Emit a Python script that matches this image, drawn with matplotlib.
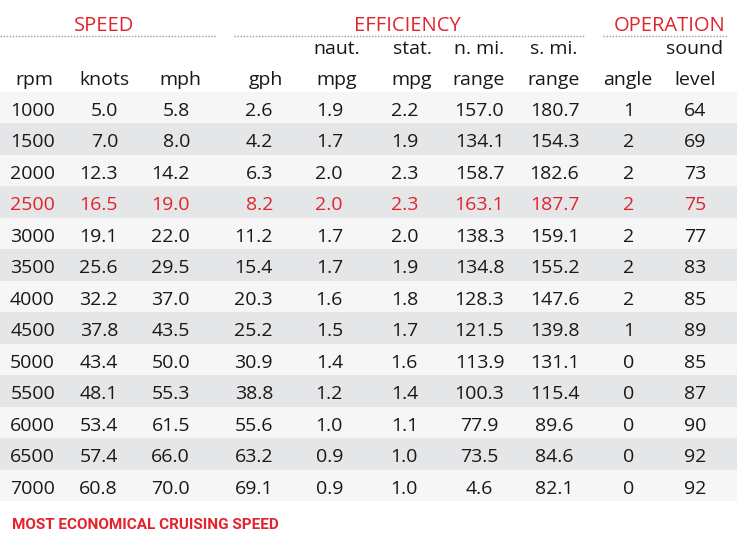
import matplotlib
matplotlib.use("Agg")
import matplotlib.pyplot as plt
from matplotlib.patches import Rectangle

# ---------------- data ----------------
rpm = [1000, 1500, 2000, 2500, 3000, 3500, 4000, 4500, 5000, 5500, 6000, 6500, 7000]
knots = [5.0, 7.0, 12.3, 16.5, 19.1, 25.6, 32.2, 37.8, 43.4, 48.1, 53.4, 57.4, 60.8]
mph = [5.8, 8.0, 14.2, 19.0, 22.0, 29.5, 37.0, 43.5, 50.0, 55.3, 61.5, 66.0, 70.0]
gph = [2.6, 4.2, 6.3, 8.2, 11.2, 15.4, 20.3, 25.2, 30.9, 38.8, 55.6, 63.2, 69.1]
naut_mpg = [1.9, 1.7, 2.0, 2.0, 1.7, 1.7, 1.6, 1.5, 1.4, 1.2, 1.0, 0.9, 0.9]
stat_mpg = [2.2, 1.9, 2.3, 2.3, 2.0, 1.9, 1.8, 1.7, 1.6, 1.4, 1.1, 1.0, 1.0]
nmi_range = [157.0, 134.1, 158.7, 163.1, 138.3, 134.8, 128.3, 121.5, 113.9, 100.3, 77.9, 73.5, 4.6]
smi_range = [180.7, 154.3, 182.6, 187.7, 159.1, 155.2, 147.6, 139.8, 131.1, 115.4, 89.6, 84.6, 82.1]
angle = [1, 2, 2, 2, 2, 2, 2, 1, 0, 0, 0, 0, 0]
sound = [64, 69, 73, 75, 77, 83, 85, 89, 85, 87, 90, 92, 92]

group_titles = ["SPEED", "EFFICIENCY", "OPERATION"]
header_top = ["", "", "", "", "naut.", "stat.", "n. mi.", "s. mi.", "", "sound"]
header_bot = ["rpm", "knots", "mph", "gph", "mpg", "mpg", "range", "range", "angle", "level"]
highlight_rpm = 2500
footnote = "MOST ECONOMICAL CRUISING SPEED"

# ---------------- style ----------------
RED = "#e2232c"
BLACK = "#1a1718"
LIGHT = "#f6f6f7"
DARK = "#e5e6e8"
W, H = 747, 546
FONT = ["Open Sans", "DejaVu Sans"]
FS = 14.0

fig = plt.figure(figsize=(W / 100, H / 100), dpi=100)
ax = fig.add_axes([0, 0, 1, 1])
ax.set_xlim(0, W)
ax.set_ylim(H, 0)
ax.axis("off")

row_top = 91.5
row_h = 31.5
table_right = 737

# column x positions and alignment
cols = [
    (rpm, "{:d}", 55, "right"),
    (knots, "{:.1f}", 118, "right"),
    (mph, "{:.1f}", 190, "right"),
    (gph, "{:.1f}", 273, "right"),
    (naut_mpg, "{:.1f}", 343, "right"),
    (stat_mpg, "{:.1f}", 418, "right"),
    (nmi_range, "{:.1f}", 479.5, "center"),
    (smi_range, "{:.1f}", 554.5, "center"),
    (angle, "{:d}", 628.5, "center"),
    (sound, "{:d}", 695.5, "center"),
]
header_x = [34, 104, 180, 266, 337, 412, 479, 554, 628, 695]

# row bands
for i in range(len(rpm)):
    y0 = row_top + i * row_h
    ax.add_patch(Rectangle((0, y0), table_right, row_h,
                           facecolor=LIGHT if i % 2 == 0 else DARK,
                           edgecolor="none", zorder=0))

# cell values
for i in range(len(rpm)):
    yc = row_top + (i + 0.5) * row_h + 3.5
    color = RED if rpm[i] == highlight_rpm else BLACK
    for vals, fmt, x, ha in cols:
        ax.text(x, yc, fmt.format(vals[i]), ha=ha, va="center",
                fontsize=FS, color=color, family=FONT)

# headers
for x, t1, t2 in zip(header_x, header_top, header_bot):
    if t1:
        ax.text(x, 54, t1, ha="center", va="baseline", fontsize=FS,
                color=BLACK, family=FONT)
    ax.text(x, 85, t2, ha="center", va="baseline", fontsize=FS,
            color=BLACK, family=FONT)

# group titles and dotted rules
groups = [(104, 0, 217), (407, 234, 585), (670, 603, 728)]
for title, (cx, x0, x1) in zip(group_titles, groups):
    ax.text(cx, 31, title, ha="center", va="baseline", fontsize=14.5,
            color=RED, family=FONT)
    ax.plot([x0, x1], [35.5, 35.5], color="#9a9a9a", lw=1.0,
            linestyle=(0, (1, 1.2)), solid_capstyle="butt")

# footnote
ax.text(12, 529, footnote, ha="left", va="baseline", fontsize=11,
        fontweight="bold", color=RED,
        family=["Roboto", "DejaVu Sans"])

fig.savefig("out.png", dpi=100, facecolor="white")
